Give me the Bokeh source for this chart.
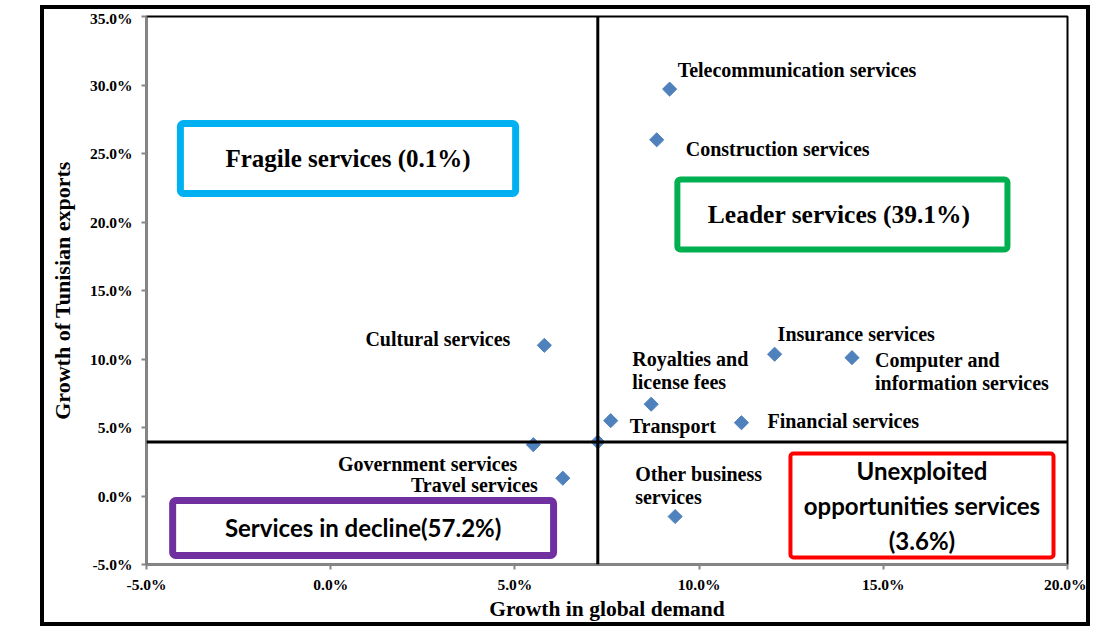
from bokeh.plotting import figure
from bokeh.models import ColumnDataSource, Span, BoxAnnotation, FixedTicker, PrintfTickFormatter, Range1d
from bokeh.core.properties import value
from bokeh.embed import file_html
from bokeh.resources import INLINE
import math

# ---- data (percent) ----
services = ["Telecommunication services", "Construction services", "Cultural services",
            "Insurance services", "Computer and\ninformation services", "Royalties and\nlicense fees",
            "Transport", "Financial services", "Government services", "", "Travel services",
            "Other business\nservices"]
demand_growth = [9.2, 8.85, 5.8, 12.05, 14.15, 8.7, 7.6, 11.15, 5.5, 7.25, 6.3, 9.35]
export_growth = [29.7, 26.0, 11.0, 10.35, 10.1, 6.7, 5.5, 5.35, 3.75, 3.95, 1.3, -1.5]

# quadrant thresholds
demand_threshold = 7.25
export_threshold = 3.95

x_ticks = [-5, 0, 5, 10, 15, 20]
y_ticks = [-5, 0, 5, 10, 15, 20, 25, 30, 35]

# quadrant boxes: label, left, right, top, bottom (data units)
quadrants = [
    ("Fragile services (0.1%)", -4.08, 5.02, 27.19, 22.08),
    ("Leader services  (39.1%)", 9.41, 18.37, 23.10, 17.99),
    ("Services in decline(57.2%)", -4.29, 6.05, -0.33, -4.34),
    ("Unexploited\nopportunities services\n(3.6%)", 12.48, 19.62, 3.10, -4.49),
]
box_colors = ["#00B0F0", "#00B050", "#7030A0", "#FF0000"]
box_widths = [7, 6, 7, 4]
box_fonts = ["Liberation Serif", "Liberation Serif", "Lato", "Lato"]
box_sizes = ["25px", "25.5px", "24px", "24px"]

# label placement (pixels, relative to point)
lab_dx = [8, 29, -34, 3, 23, -19, 19, 26, -16, 0, -25, -40]
lab_dy = [-19, 9, -6, -20, 14, -34, 5, -2, 19, 0, 7, -31]
lab_align = ["left", "left", "right", "left", "left", "left", "left", "left", "right", "left", "right", "left"]

src = ColumnDataSource(dict(x=demand_growth, y=export_growth, name=services,
                            dx=lab_dx, dy=lab_dy, align=lab_align))

p = figure(width=1050, height=621, output_backend="svg", toolbar_location=None,
           x_range=Range1d(-5, 20), y_range=Range1d(-5, 35),
           min_border_left=102, min_border_right=27, min_border_top=7, min_border_bottom=66)
p.margin = (5, 0, 0, 40)
p.styles = {"border": "4px solid black"}
p.background_fill_color = "white"
p.border_fill_color = "white"
p.outline_line_color = "black"
p.outline_line_width = 2
p.grid.visible = False

for ax in (p.xaxis[0], p.yaxis[0]):
    ax.axis_line_color = "#868686"
    ax.axis_line_width = 2
    ax.major_tick_line_color = "#868686"
    ax.major_tick_line_width = 2
    ax.major_tick_out = 5
    ax.major_tick_in = 0
    ax.minor_tick_line_color = None
    ax.formatter = PrintfTickFormatter(format="%.1f%%")
    ax.major_label_text_font = "Liberation Serif"
    ax.major_label_text_font_style = "bold"
    ax.major_label_text_font_size = "15.5px"
    ax.axis_label_text_font = "Liberation Serif"
    ax.axis_label_text_font_style = "bold"
    ax.axis_label_text_color = "black"
    ax.major_label_text_color = "black"

p.xaxis.axis_label_text_font_size = "21.5px"
p.yaxis.axis_label_text_font_size = "22px"
p.xaxis.ticker = FixedTicker(ticks=x_ticks)
p.yaxis.ticker = FixedTicker(ticks=y_ticks)
p.xaxis.axis_label = "Growth in global demand"
p.yaxis.axis_label = "Growth of Tunisian exports"
p.xaxis.major_label_standoff = 6
p.yaxis.major_label_standoff = 9
p.xaxis.axis_label_standoff = 1
p.yaxis.axis_label_standoff = 12

p.add_layout(Span(location=demand_threshold, dimension="height", line_color="black", line_width=3))
p.add_layout(Span(location=export_threshold, dimension="width", line_color="black", line_width=3))

for (lab, l, r, t, b), c, w in zip(quadrants, box_colors, box_widths):
    p.add_layout(BoxAnnotation(left=l, right=r, top=t, bottom=b, fill_alpha=0,
                               line_color=c, line_width=w, line_alpha=1, border_radius=3))

p.scatter("x", "y", source=src, marker="square", angle=math.pi / 4, size=10,
          color="#4F81BD")
p.text("x", "y", text="name", source=src, x_offset="dx", y_offset="dy", text_align="align",
       text_baseline="middle", text_font=value("Liberation Serif"), text_font_style="bold",
       text_font_size="20px", text_color="black", text_line_height=1.03)

for (lab, l, r, t, b), f, s in zip(quadrants, box_fonts, box_sizes):
    p.text(x=[(l + r) / 2], y=[(t + b) / 2], text=[lab], text_align="center", text_baseline="middle",
           text_font=value(f), text_font_style="bold", text_font_size=s,
           text_color="black", text_line_height=1.2)

open("out.html", "w").write(file_html(p, INLINE))
